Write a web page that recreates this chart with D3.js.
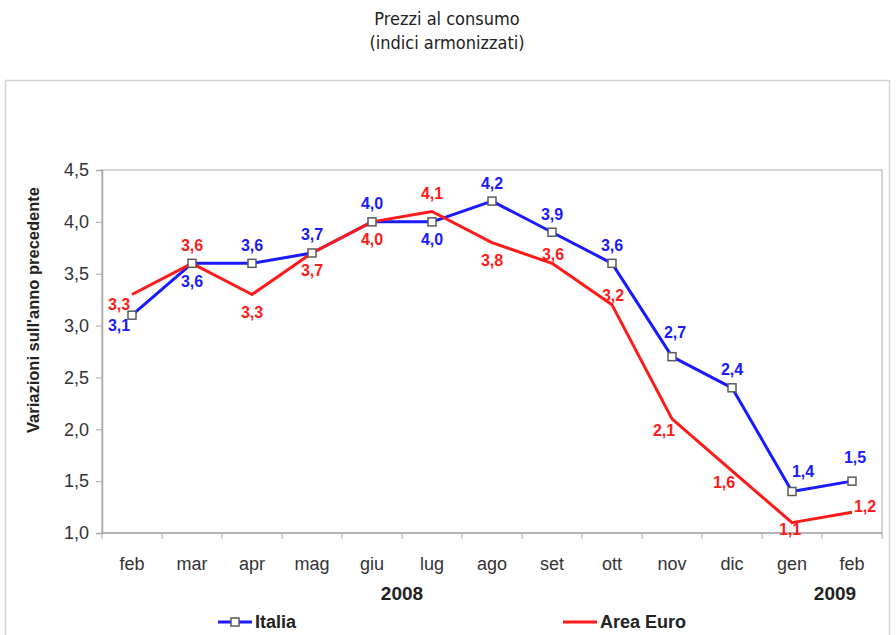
<!DOCTYPE html>
<html>
<head>
<meta charset="utf-8">
<script src="https://cdn.jsdelivr.net/npm/d3@7"></script>
<style>
  html, body { margin: 0; padding: 0; background: #fff; }
  svg { display: block; font-family: "Liberation Sans", Arial, sans-serif; }
</style>
</head>
<body>
<svg id="chart" width="896" height="635"></svg>
<script>
// Monthly categories (Feb 2008 – Feb 2009)
const months = ["feb", "mar", "apr", "mag", "giu", "lug", "ago", "set", "ott", "nov", "dic", "gen", "feb"];
const years = [{ label: "2008", from: 0, to: 9 }, { label: "2009", from: 12, to: 12 }];

// Year-on-year change of harmonised consumer prices (%)
const italia    = [3.1, 3.6, 3.6, 3.7, 4.0, 4.0, 4.2, 3.9, 3.6, 2.7, 2.4, 1.4, 1.5];
const areaEuro  = [3.3, 3.6, 3.3, 3.7, 4.0, 4.1, 3.8, 3.6, 3.2, 2.1, 1.6, 1.1, 1.2];

const yTicks = [1.0, 1.5, 2.0, 2.5, 3.0, 3.5, 4.0, 4.5];

// Where each value label sits relative to its point
const italiaLabelPos   = ["SW", "S", "N", "N", "N", "S", "N", "N", "N", "NH", "N", "NE", "NH"];
const areaEuroLabelPos = ["SW", "N", "S", "S", "S", "N", "S", "n", "n", "sw", "sw", "s", "E"];

const offsets = {
  N: [0, -18], NH: [3, -24], S: [0, 18], SW: [-13, 10], NE: [11, -20],
  n: [1, -9], s: [-2, 7], sw: [-8, 12], E: [13, -6]
};

const BLUE = "#1a1aff", RED = "#ff1a1a";
const fmt = v => d3.format(".1f")(v).replace(".", ",");

const svg = d3.select("#chart");

// Title
const titleFont = "'DejaVu Sans Condensed', 'DejaVu Sans', sans-serif";
svg.append("text").attr("x", 447).attr("y", 25).attr("text-anchor", "middle")
  .style("font-family", titleFont).style("font-size", "18px").attr("fill", "#222")
  .text("Prezzi al consumo");
svg.append("text").attr("x", 447).attr("y", 49).attr("text-anchor", "middle")
  .style("font-family", titleFont).style("font-size", "18px").attr("fill", "#222")
  .text("(indici armonizzati)");

// Outer frame
svg.append("rect").attr("x", 5.5).attr("y", 80.5).attr("width", 884).attr("height", 580)
  .attr("fill", "none").attr("stroke", "#d4d4d4").attr("stroke-width", 1.5);

const plot = { left: 102, top: 170, right: 882, bottom: 533 };

const x = d3.scalePoint().domain(d3.range(months.length))
  .range([plot.left, plot.right]).padding(0.5);
const y = d3.scaleLinear().domain([1.0, 4.5]).range([plot.bottom, plot.top]);

// Plot area border
svg.append("rect").attr("x", plot.left).attr("y", plot.top)
  .attr("width", plot.right - plot.left).attr("height", plot.bottom - plot.top)
  .attr("fill", "none").attr("stroke", "#c8c8c8").attr("stroke-width", 1.5);

// Y axis
const yAxis = svg.append("g").attr("transform", `translate(${plot.left},0)`)
  .call(d3.axisLeft(y).tickValues(yTicks).tickFormat(fmt).tickSize(6).tickPadding(7));
yAxis.select(".domain").attr("stroke", "#a8a8a8").attr("stroke-width", 1.5);
yAxis.selectAll(".tick line").attr("stroke", "#a8a8a8");
yAxis.selectAll(".tick text").attr("fill", "#333")
  .style("font-family", "'Liberation Sans', Arial, sans-serif").style("font-size", "18px");

// X axis: ticks on category boundaries, labels centred on categories
const boundary = d3.scaleLinear().domain([0, months.length]).range([plot.left, plot.right]);
const xg = svg.append("g");
xg.append("line").attr("x1", plot.left).attr("x2", plot.right)
  .attr("y1", plot.bottom).attr("y2", plot.bottom).attr("stroke", "#a8a8a8").attr("stroke-width", 1.5);
xg.selectAll("line.tk").data(d3.range(months.length + 1)).join("line").attr("class", "tk")
  .attr("x1", d => boundary(d)).attr("x2", d => boundary(d))
  .attr("y1", plot.bottom).attr("y2", plot.bottom + 6).attr("stroke", "#a8a8a8");
xg.selectAll("text.month").data(months).join("text").attr("class", "month")
  .attr("x", (d, i) => x(i)).attr("y", 570).attr("text-anchor", "middle")
  .attr("fill", "#333").style("font-size", "18px").text(d => d);
xg.selectAll("text.year").data(years).join("text").attr("class", "year")
  .attr("x", d => (x(d.from) + x(d.to)) / 2 + (d.from === d.to ? -17 : 0))
  .attr("y", 600).attr("text-anchor", "middle")
  .attr("fill", "#222").style("font-size", "19px").style("font-weight", "bold").text(d => d.label);

// Y axis title
svg.append("text").attr("transform", "translate(39,310) rotate(-90)")
  .attr("text-anchor", "middle").attr("fill", "#222")
  .style("font-size", "16.5px").style("font-weight", "bold")
  .text("Variazioni sull'anno precedente");

// Lines
const line = d3.line().x((d, i) => x(i)).y(d => y(d));
svg.append("path").datum(italia).attr("d", line)
  .attr("fill", "none").attr("stroke", BLUE).attr("stroke-width", 3).attr("stroke-linejoin", "round");
svg.append("path").datum(areaEuro).attr("d", line)
  .attr("fill", "none").attr("stroke", RED).attr("stroke-width", 3).attr("stroke-linejoin", "round");

// Italia markers
const ms = 8;
svg.selectAll("rect.mk").data(italia).join("rect").attr("class", "mk")
  .attr("x", (d, i) => x(i) - ms / 2).attr("y", d => y(d) - ms / 2)
  .attr("width", ms).attr("height", ms)
  .attr("fill", "#fff").attr("stroke", "#5a5a5a").attr("stroke-width", 1.5);

// Value labels
function labels(data, pos, color, cls) {
  svg.selectAll("text." + cls).data(data).join("text").attr("class", cls)
    .attr("x", (d, i) => x(i) + offsets[pos[i]][0])
    .attr("y", (d, i) => y(d) + offsets[pos[i]][1])
    .attr("text-anchor", "middle").attr("dominant-baseline", "central")
    .attr("fill", color).style("font-size", "16px").style("font-weight", "bold")
    .text(d => fmt(d));
}
labels(italia, italiaLabelPos, BLUE, "lbl-it");
labels(areaEuro, areaEuroLabelPos, RED, "lbl-eu");

// Legend
const lg = svg.append("g");
lg.append("line").attr("x1", 218).attr("x2", 252).attr("y1", 622).attr("y2", 622)
  .attr("stroke", BLUE).attr("stroke-width", 3);
lg.append("rect").attr("x", 235 - ms / 2).attr("y", 622 - ms / 2).attr("width", ms).attr("height", ms)
  .attr("fill", "#fff").attr("stroke", "#5a5a5a").attr("stroke-width", 1.5);
lg.append("text").attr("x", 255).attr("y", 622).attr("dominant-baseline", "central")
  .attr("fill", "#222").style("font-size", "18px").style("font-weight", "bold").text("Italia");
lg.append("line").attr("x1", 563).attr("x2", 597).attr("y1", 622).attr("y2", 622)
  .attr("stroke", RED).attr("stroke-width", 3);
lg.append("text").attr("x", 600).attr("y", 622).attr("dominant-baseline", "central")
  .attr("fill", "#222").style("font-size", "18px").style("font-weight", "bold").text("Area Euro");
</script>
</body>
</html>
